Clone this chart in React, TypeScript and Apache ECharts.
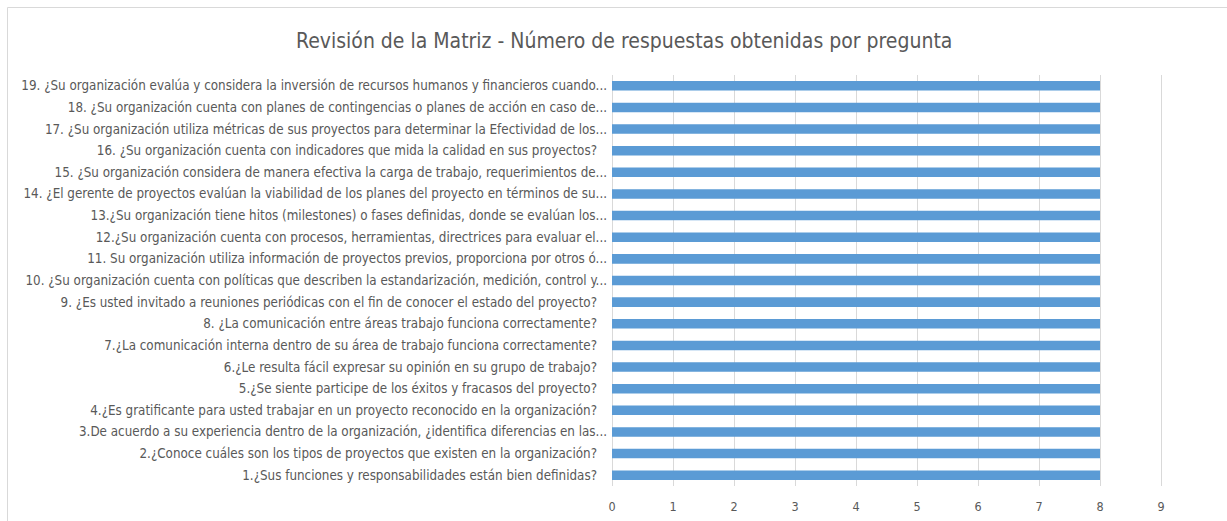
import React, { useEffect, useRef } from "react";
import * as echarts from "echarts";

const title = "Revisión de la Matriz - Número de respuestas obtenidas por pregunta";

const questions = [
  "1.¿Sus funciones y responsabilidades están bien definidas?",
  "2.¿Conoce cuáles son los tipos de proyectos que existen en la organización?",
  "3.De acuerdo a su experiencia dentro de la organización, ¿identifica diferencias en las...",
  "4.¿Es gratificante para usted trabajar en un proyecto reconocido en la organización?",
  "5.¿Se siente participe de los éxitos y fracasos del proyecto?",
  "6.¿Le resulta fácil expresar su opinión en su grupo de trabajo?",
  "7.¿La comunicación interna dentro de su área de trabajo funciona correctamente?",
  "8. ¿La comunicación entre áreas trabajo funciona correctamente?",
  "9. ¿Es usted invitado a reuniones periódicas con el fin de conocer el estado del proyecto?",
  "10. ¿Su organización cuenta con políticas que describen la estandarización, medición, control y...",
  "11. Su organización utiliza información de proyectos previos, proporciona por otros ó...",
  "12.¿Su organización cuenta con procesos, herramientas, directrices para evaluar el...",
  "13.¿Su organización tiene hitos (milestones) o fases definidas, donde se evalúan los...",
  "14. ¿El gerente de proyectos evalúan la viabilidad de los planes del proyecto en términos de su...",
  "15. ¿Su organización considera de manera efectiva la carga de trabajo, requerimientos de...",
  "16. ¿Su organización cuenta con indicadores que mida la calidad en sus proyectos?",
  "17. ¿Su organización utiliza métricas de sus proyectos para determinar la Efectividad de los...",
  "18. ¿Su organización cuenta con planes de contingencias o planes de acción en caso de...",
  "19. ¿Su organización evalúa y considera la inversión de recursos humanos y financieros cuando...",
];

const responses = [8, 8, 8, 8, 8, 8, 8, 8, 8, 8, 8, 8, 8, 8, 8, 8, 8, 8, 8];

const xTicks = { min: 0, max: 9, interval: 1 };

export default function App() {
  const ref = useRef<HTMLDivElement>(null);
  useEffect(() => {
    if (!ref.current) return;
    const chart = echarts.init(ref.current, undefined, { renderer: "svg" });
    const font = "'Liberation Sans Narrow', 'DejaVu Sans Condensed', sans-serif";
    const labelStyle = { color: "#595959", fontFamily: font, fontSize: 13.3 };
    chart.setOption({
      animation: false,
      backgroundColor: "#ffffff",
      title: {
        text: title,
        left: 291,
        top: 25,
        textStyle: {
          fontFamily: font,
          fontSize: 21,
          fontWeight: "normal",
          color: "#595959",
        },
      },
      graphic: [
        {
          type: "rect",
          shape: { x: 7.5, y: 7.5, width: 1240, height: 540 },
          style: { fill: "none", stroke: "#d9d9d9", lineWidth: 1 },
          silent: true,
        },
      ],
      grid: { left: 612, right: 66, top: 75, bottom: 35, containLabel: false },
      xAxis: {
        type: "value",
        min: xTicks.min,
        max: xTicks.max,
        interval: xTicks.interval,
        axisLine: { show: false },
        axisTick: { show: false },
        splitLine: { show: true, lineStyle: { color: "#d9d9d9", width: 1 } },
        axisLabel: {
          color: "#595959",
          fontFamily: font,
          fontSize: 12.5,
          margin: 14,
        },
      },
      yAxis: {
        type: "category",
        data: questions,
        axisLine: { show: false },
        axisTick: { show: false },
        splitLine: { show: false },
        axisLabel: {
          ...labelStyle,
          margin: 5,
          interval: 0,
          formatter: (v: string) => (v.endsWith("...") ? `{a|${v}}` : `{b|${v}}`),
          rich: {
            a: { ...labelStyle },
            b: { ...labelStyle, padding: [0, 10, 0, 0] },
          },
        },
      },
      series: [
        {
          type: "bar",
          data: responses,
          barWidth: "44%",
          itemStyle: { color: "#5b9bd5" },
        },
      ],
    });
    return () => chart.dispose();
  }, []);
  return <div ref={ref} style={{ width: 1227, height: 521, position: "absolute", left: 0, top: 0 }} />;
}
